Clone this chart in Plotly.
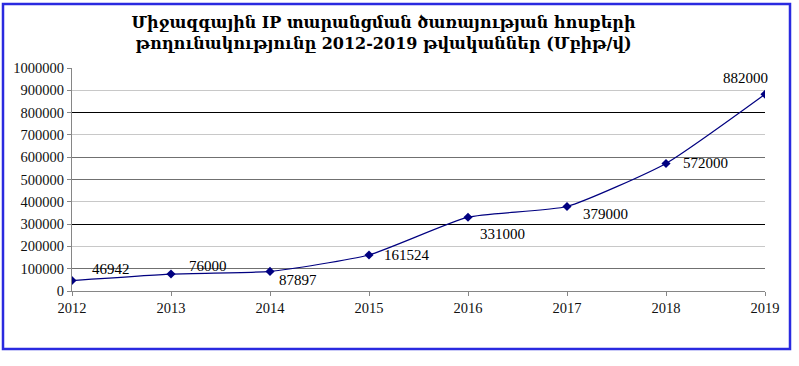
import plotly.graph_objects as go

years = [2012, 2013, 2014, 2015, 2016, 2017, 2018, 2019]
values = [46942, 76000, 87897, 161524, 331000, 379000, 572000, 882000]
labels = ["46942", "76000", "87897", "161524", "331000", "379000", "572000", "882000"]
y_ticks = list(range(0, 1000001, 100000))
black_grid = [300000, 800000]
dark_grid = [100000, 500000, 600000, 1000000]
title_text = ("Միջազգային IP տարանցման ծառայության հոսքերի<br>"
              "թողունակությունը 2012-2019 թվականներ (Մբիթ/վ)")

# label offsets (pixels) relative to each point
lab_dx = [39, 37, 28, 38, 34, 38, 39, -20]
lab_dy = [12, 8, -9, 0, -17, -8, 0, 16]

navy = "#000080"
fig = go.Figure()
fig.add_trace(go.Scatter(
    x=years, y=values, mode="lines+markers",
    line=dict(color=navy, width=1.2, shape="spline", smoothing=0.5),
    marker=dict(symbol="diamond", size=7, color=navy),
    hoverinfo="skip", showlegend=False))
for ax in ["y2", "y3"]:
    fig.add_trace(go.Scatter(x=years, y=values, mode="none", yaxis=ax,
                             hoverinfo="skip", showlegend=False))

for x, y, t, dx, dy in zip(years, values, labels, lab_dx, lab_dy):
    fig.add_annotation(x=x, y=y, text=t, showarrow=False, xshift=dx, yshift=dy,
                       font=dict(family="Liberation Serif", size=15, color="#000"))

serif = dict(family="Liberation Serif", size=14.5, color="#111")
fig.update_layout(
    width=799, height=366,
    margin=dict(l=72, r=34, t=68, b=75),
    paper_bgcolor="white", plot_bgcolor="white",
    title=dict(text="<b>" + title_text.replace("<br>", "</b><br><b>") + "</b>",
               x=0.48, xanchor="center", xref="container",
               y=1 - 28 / 366, yanchor="middle", yref="container",
               font=dict(family="DejaVu Serif", size=16, color="#000")),
    xaxis=dict(range=[2012, 2019], tickvals=years, ticktext=[str(y) for y in years],
               showgrid=False, showline=True, linecolor="#868686", linewidth=1,
               ticks="outside", ticklen=4, tickcolor="#868686", tickfont=serif,
               zeroline=False),
    yaxis=dict(range=[0, 1000000], tickvals=y_ticks, tickformat="d",
               showgrid=True, gridcolor="#c8c8c8", gridwidth=1,
               showline=True, linecolor="#868686", linewidth=1,
               ticks="outside", ticklen=4, tickcolor="#868686", tickfont=serif,
               zeroline=False),
    yaxis2=dict(range=[0, 1000000], overlaying="y", tickvals=black_grid,
                showgrid=True, gridcolor="#000000", gridwidth=1,
                showticklabels=False, showline=False, ticks="", zeroline=False),
    yaxis3=dict(range=[0, 1000000], overlaying="y", tickvals=dark_grid,
                showgrid=True, gridcolor="#707070", gridwidth=1,
                showticklabels=False, showline=False, ticks="", zeroline=False),
)
fig.add_shape(type="rect", xref="paper", yref="paper",
              x0=(3 - 72) / 693, x1=(790 - 72) / 693,
              y0=(291 - 349) / 223, y1=(291 - 4) / 223,
              line=dict(color="#2a2ae0", width=2.5), layer="above")
fig.write_html("out.html")
